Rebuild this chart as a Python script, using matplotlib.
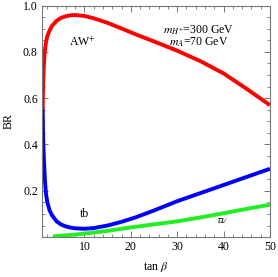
import matplotlib
matplotlib.use("Agg")
import matplotlib.pyplot as plt
from matplotlib.ticker import MultipleLocator

# AW+ channel
aw_tb = [1.0, 1.1, 1.2, 1.4, 1.7, 2.0, 2.5, 3, 4, 5, 6, 7, 8, 10, 12, 15, 18, 21, 25, 30, 35, 40, 45, 50]
aw_br = [0.55, 0.66, 0.72, 0.79, 0.84, 0.868, 0.893, 0.912, 0.934, 0.947, 0.954, 0.958, 0.959,
         0.955, 0.945, 0.925, 0.901, 0.876, 0.845, 0.805, 0.76, 0.707, 0.64, 0.57]
# tb channel
tb_tb = [1.0, 1.05, 1.1, 1.2, 1.3, 1.5, 1.7, 2.0, 2.5, 3, 4, 5, 6, 7, 8, 10, 12, 15, 18, 21, 25, 30, 35, 40, 45, 50]
tb_br = [0.56, 0.49, 0.43, 0.37, 0.32, 0.24, 0.19, 0.15, 0.115, 0.095, 0.068, 0.054, 0.046, 0.041,
         0.038, 0.036, 0.039, 0.05, 0.066, 0.085, 0.115, 0.155, 0.19, 0.225, 0.26, 0.295]
# tau nu channel
tn_tb = [3.2, 5, 8, 10, 15, 20, 25, 30, 35, 40, 45, 50]
tn_br = [0.003, 0.006, 0.011, 0.015, 0.027, 0.042, 0.055, 0.068, 0.085, 0.103, 0.122, 0.14]

plt.rcParams['font.family'] = ['Liberation Serif', 'DejaVu Serif']
plt.rcParams['mathtext.fontset'] = 'stix'

fig = plt.figure(figsize=(2.78, 2.77), dpi=100)
ax = fig.add_axes([0.151, 0.144, 0.820, 0.836])

lw = 2.8
ax.plot(tn_tb, tn_br, color='#22ee22', lw=lw, solid_capstyle='butt', solid_joinstyle='round')
ax.plot(tb_tb, tb_br, color='#0000ff', lw=lw, solid_capstyle='butt', solid_joinstyle='round')
ax.plot(aw_tb, aw_br, color='#ff0000', lw=lw, solid_capstyle='butt', solid_joinstyle='round')

ax.set_xlim(0.85, 50)
ax.set_ylim(0, 1.0)
ax.xaxis.set_major_locator(MultipleLocator(10))
ax.xaxis.set_minor_locator(MultipleLocator(2))
ax.yaxis.set_major_locator(MultipleLocator(0.2))
ax.yaxis.set_minor_locator(MultipleLocator(0.05))
ax.set_xticks([10, 20, 30, 40, 50])
ax.set_yticks([0.2, 0.4, 0.6, 0.8, 1.0])
ax.set_yticklabels(['0.2', '0.4', '0.6', '0.8', '1.0'])

gray = '#777777'
for s in ax.spines.values():
    s.set_color(gray)
    s.set_linewidth(0.8)
ax.tick_params(which='both', direction='in', top=True, right=True, color=gray, labelsize=8.5, pad=3)
ax.tick_params(which='major', length=4, width=0.7)
ax.tick_params(which='minor', length=2, width=0.6)

ax.set_xlabel(r'tan $\beta$', fontsize=8.5, labelpad=5)
ax.set_ylabel('BR', fontsize=8.5, labelpad=6)

ax.text(9.6, 0.842, 'AW$^{+}$', fontsize=8.5, ha='center', va='center')
ax.text(10.0, 0.1, 'tb', fontsize=8.5, ha='center', va='center')
ax.text(39.6, 0.073, r'$\tau\nu$', fontsize=8.5, ha='center', va='center')
ax.text(34.7, 0.894, r'$m_{H^{+}}$=300 GeV', fontsize=8.5, ha='center', va='center')
ax.text(34.7, 0.842, r'$m_{A}$=70 GeV', fontsize=8.5, ha='center', va='center')

fig.savefig('out.png', dpi=100)
